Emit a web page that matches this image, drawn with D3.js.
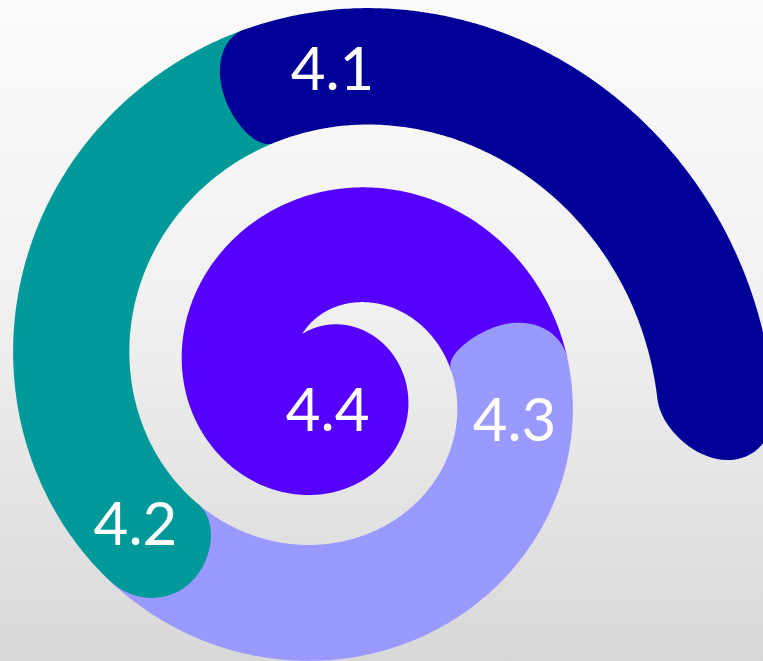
<!DOCTYPE html>
<html>
<head>
<meta charset="utf-8">
<script src="https://cdn.jsdelivr.net/npm/d3@7"></script>
<style>
  html, body { margin: 0; padding: 0; overflow: hidden; }
  svg { display: block; }
</style>
</head>
<body>
<script>
// spiral segments, innermost first (drawn in this order, each one over the one before)
const labels = ["4.4", "4.3", "4.2", "4.1"];
const colors = ["#5500ff", "#9999ff", "#009999", "#000099"];
// where each segment runs along the spiral, degrees clockwise from 12 o'clock
const startAngle = [-38, 444, 589, 705];
const endAngle = [444, 589, 705, 813];

const width = 763, height = 661;
const cx = 338, cy = 382;
const band = 117;

// radius of the outer edge of the band, every 45 degrees from -45 to 855,
// smoothed with a b-spline so the edge has no corners
const rOuter = d3.scaleSequential(d3.interpolateBasis(
    [60.5, 57, 57.5, 66, 85, 109, 133, 155, 173, 193, 213, 233, 255, 277, 301, 323, 348, 373, 396, 432, 480]))
  .domain([-45, 855]);
const rInner = t => rOuter(t) - band;
const rMid = t => rOuter(t) - band / 2;

// rounded ends: how far the bulge reaches along the band (0 = cut square)
const capStart = [0, 40, 55, 36];
const capEnd = [0, 0, 0, 56];

const rad = Math.PI / 180;
function pt(t, r) {
  return [cx + r * Math.sin(t * rad), cy - r * Math.cos(t * rad)];
}

function segment(i) {
  const t0 = startAngle[i], t1 = endAngle[i];
  // the inner edge only starts one turn after the tip in the eye of the spiral
  const tIn = Math.max(t0, startAngle[0] + 360);
  const pts = [];
  for (let t = t0; t < t1; t += 0.5) pts.push(pt(t, rOuter(t)));
  pts.push(pt(t1, rOuter(t1)));
  if (capEnd[i]) {
    for (let a = 90; a >= -90; a -= 5) {
      const tt = t1 + capEnd[i] * Math.cos(a * rad) / rMid(t1) / rad;
      pts.push(pt(tt, rMid(tt) + band / 2 * Math.sin(a * rad)));
    }
  }
  for (let t = t1; t > tIn; t -= 0.5) pts.push(pt(t, rInner(t)));
  pts.push(pt(tIn, rInner(tIn)));
  if (capStart[i]) {
    for (let a = -90; a <= 90; a += 5) {
      const tt = t0 - capStart[i] * Math.cos(a * rad) / rMid(t0) / rad;
      pts.push(pt(tt, rMid(tt) + band / 2 * Math.sin(a * rad)));
    }
  }
  return pts;
}

const svg = d3.select("body").append("svg")
  .attr("width", width)
  .attr("height", height);

const grad = svg.append("defs").append("linearGradient")
  .attr("id", "bg")
  .attr("x1", 0).attr("y1", 0).attr("x2", 0).attr("y2", 1);
grad.append("stop").attr("offset", "0%").attr("stop-color", "#fbfbfb");
grad.append("stop").attr("offset", "45%").attr("stop-color", "#f1f1f1");
grad.append("stop").attr("offset", "100%").attr("stop-color", "#d8d8d8");

svg.append("rect")
  .attr("width", width)
  .attr("height", height)
  .attr("fill", "url(#bg)");

const line = d3.line().curve(d3.curveLinearClosed);

svg.append("g")
  .selectAll("path")
  .data(labels)
  .join("path")
  .attr("d", (d, i) => line(segment(i)))
  .attr("fill", (d, i) => colors[i]);

// label spots along the band; the innermost one sits in the eye of the spiral
const labelAngle = [201, 462, 595, 719];
const labelPos = labelAngle.map((t, i) => pt(t, i === 0 ? 29 : rMid(t)));

svg.append("g")
  .selectAll("text")
  .data(labels)
  .join("text")
  .attr("x", (d, i) => labelPos[i][0])
  .attr("y", (d, i) => labelPos[i][1])
  .attr("dy", "0.36em")
  .attr("text-anchor", "middle")
  .attr("fill", "#ffffff")
  .style("font-family", "Lato, 'Open Sans', sans-serif")
  .style("font-size", "60px")
  .text(d => d);
</script>
</body>
</html>
